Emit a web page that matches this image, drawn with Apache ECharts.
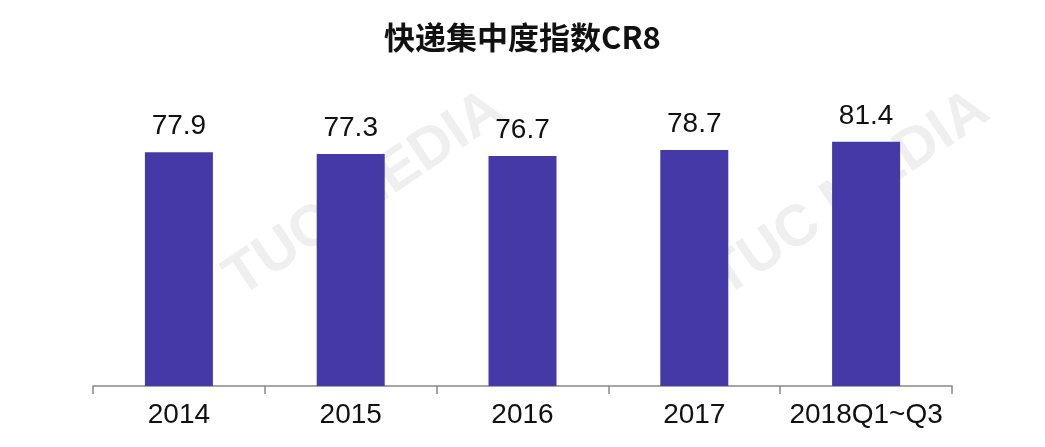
<!DOCTYPE html>
<html><head><meta charset="utf-8">
<script src="https://cdn.jsdelivr.net/npm/echarts@6/dist/echarts.min.js"></script>
<style>html,body{margin:0;padding:0;background:#fff}#c{width:1045px;height:447px}</style>
</head><body><div id="c"></div>
<script>
const categories = ['2014', '2015', '2016', '2017', '2018Q1~Q3'];
const cr8Values = [77.9, 77.3, 76.7, 78.7, 81.4];
const titleText = '快递集中度指数CR8';

const chart = echarts.init(document.getElementById('c'));
const font = '"Liberation Sans", "Noto Sans CJK SC", sans-serif';
const wm = (x, y) => ([
  {type:'text', left:x, top:y, rotation:Math.PI*34/180, silent:true, z:-10,
   style:{text:'TUC MEDIA', fill:'#efefef', font:'bold 58px ' + font}},
]);
chart.setOption({
  animation:false,
  graphic: [].concat(wm(215,80), wm(700,80)),
  title:{text:titleText, left:'center', top:17,
    textStyle:{fontFamily:'"Noto Sans CJK SC", sans-serif', fontSize:31, fontWeight:'bold', color:'#111'}},
  grid:{left:93, right:93, top:86, bottom:61},
  xAxis:{type:'category', data:categories,
    axisLine:{lineStyle:{color:'#888', width:1.5}},
    axisTick:{show:true, interval:0, length:8, lineStyle:{color:'#888', width:1.5}},
    axisLabel:{interval:0, color:'#111', fontSize:28, fontFamily:font, margin:15}},
  yAxis:{type:'value', min:0, max:100, show:false, splitLine:{show:false}},
  series:[{type:'bar', data:cr8Values, barWidth:68,
    itemStyle:{color:'#4439A7'},
    label:{show:true, position:'top', distance:12, color:'#111', fontSize:28, fontFamily:font}}]
});
</script></body></html>
